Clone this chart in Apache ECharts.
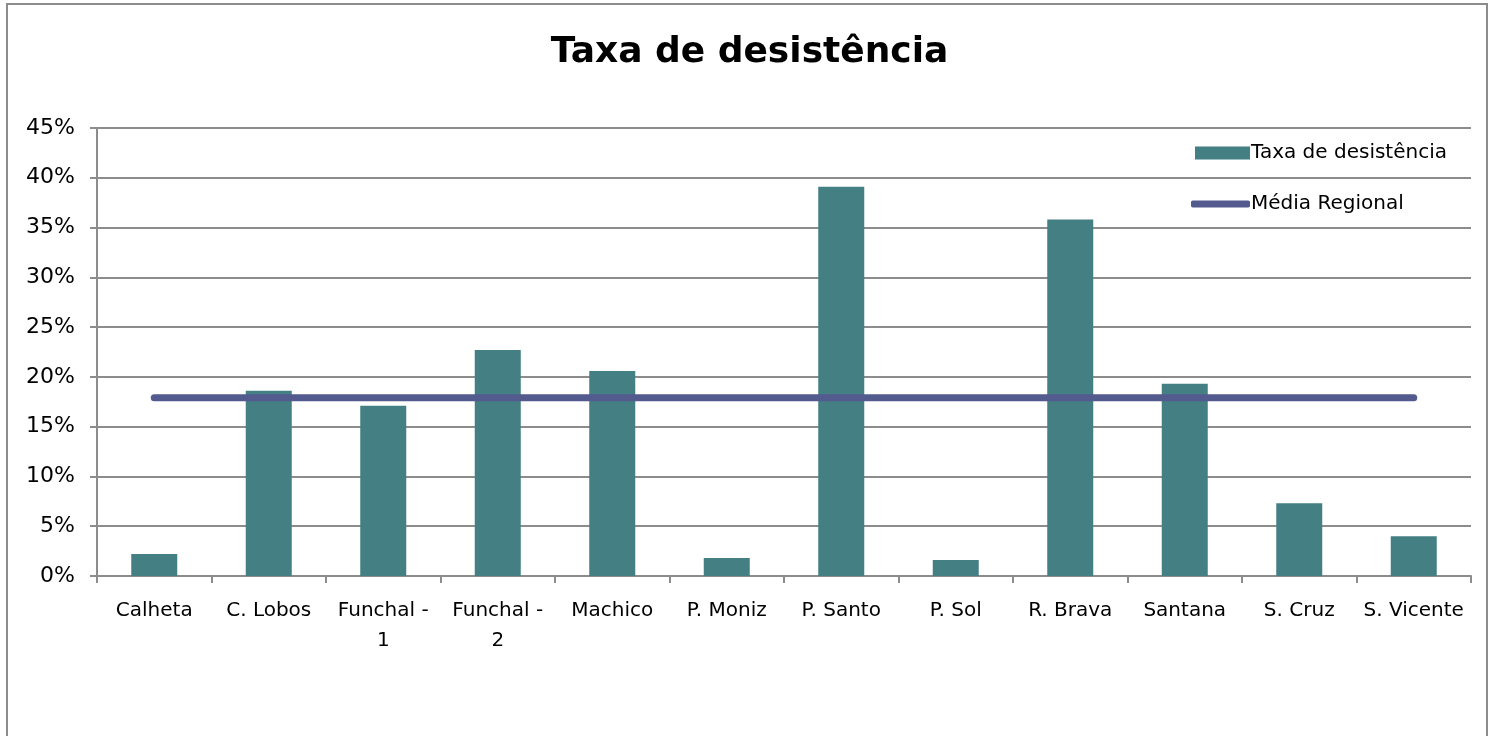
<!DOCTYPE html>
<html>
<head>
<meta charset="utf-8">
<script src="https://cdn.jsdelivr.net/npm/echarts@6/dist/echarts.min.js"></script>
<style>
  html, body { margin: 0; padding: 0; background: #fff; }
  #frame { position: absolute; left: 6px; top: 3px; width: 1482px; height: 740px; border: 2px solid #8c8c8c; box-sizing: border-box; }
  #main { width: 1499px; height: 736px; position: absolute; left: 0; top: 0; }
</style>
</head>
<body>
<div id="frame"></div>
<div id="main"></div>
<script>
// escolas / concelhos
var categorias = ['Calheta', 'C. Lobos', 'Funchal -\n1', 'Funchal -\n2', 'Machico', 'P. Moniz',
  'P. Santo', 'P. Sol', 'R. Brava', 'Santana', 'S. Cruz', 'S. Vicente']
var taxa = [0.022, 0.186, 0.171, 0.227, 0.206, 0.018, 0.391, 0.016, 0.358, 0.193, 0.073, 0.040]
var mediaRegional = 0.179
var media = categorias.map(function () { return mediaRegional })

var myChart = echarts.init(document.getElementById('main'))
var fonte = '"DejaVu Sans", Lato, sans-serif'
var legTexto = { fontFamily: fonte, fontSize: 20, color: '#000', padding: [0, 0, 0, -4] }

option = {
  animation: false,
  backgroundColor: 'transparent',
  title: {
    text: 'Taxa de desistência',
    left: 'center',
    top: 30,
    textStyle: { fontFamily: fonte, fontSize: 36, fontWeight: 'bold', color: '#000' }
  },
  legend: [
    {
      left: 1190,
      top: 138,
      itemWidth: 55,
      itemHeight: 13,
      icon: 'rect',
      textStyle: legTexto,
      data: ['Taxa de desistência']
    },
    {
      left: 1186,
      top: 189,
      itemWidth: 59,
      itemHeight: 7,
      icon: 'roundRect',
      textStyle: legTexto,
      data: ['Média Regional']
    }
  ],
  grid: { left: 97, right: 28, top: 128, bottom: 160 },
  xAxis: {
    type: 'category',
    data: categorias,
    axisLine: { lineStyle: { color: '#8c8c8c', width: 2 } },
    axisTick: { show: true, length: 7, lineStyle: { color: '#8c8c8c', width: 2 } },
    axisLabel: { color: '#000', fontFamily: fonte, fontSize: 20, margin: 20, lineHeight: 30, interval: 0 }
  },
  yAxis: {
    type: 'value',
    min: 0,
    max: 0.45,
    interval: 0.05,
    axisLine: { show: true, lineStyle: { color: '#8c8c8c', width: 2 } },
    axisTick: { show: true, length: 7, lineStyle: { color: '#8c8c8c', width: 2 } },
    splitLine: { lineStyle: { color: '#8c8c8c', width: 2 } },
    axisLabel: {
      color: '#000', fontFamily: fonte, fontSize: 22, margin: 22,
      formatter: function (v) { return Math.round(v * 100) + '%' }
    }
  },
  series: [
    {
      name: 'Taxa de desistência',
      type: 'bar',
      data: taxa,
      barWidth: 46,
      itemStyle: { color: '#437f83' }
    },
    {
      name: 'Média Regional',
      type: 'line',
      data: media,
      symbol: 'none',
      lineStyle: { color: '#535a8e', width: 7, cap: 'round' },
      itemStyle: { color: '#535a8e' }
    }
  ]
}

myChart.setOption(option)
</script>
</body>
</html>
